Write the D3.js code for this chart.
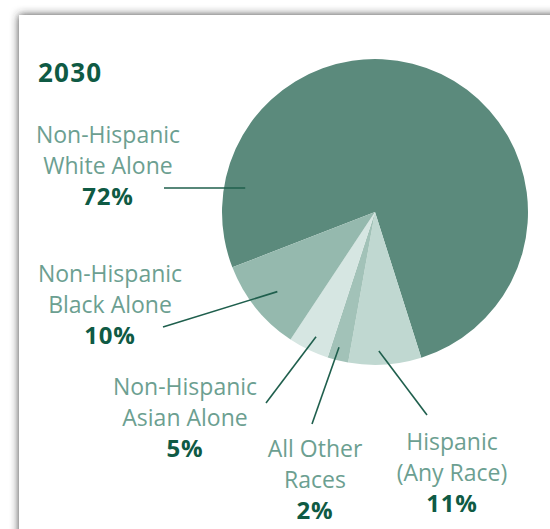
<!DOCTYPE html>
<html>
<head>
<meta charset="utf-8">
<script src="https://cdn.jsdelivr.net/npm/d3@7"></script>
<style>
  html, body { margin: 0; padding: 0; background: #fff; }
  svg { display: block; }
</style>
</head>
<body>
<div id="chart"></div>
<script>
// Data (order follows the pie clockwise, starting with the big slice)
const groups = ['White', 'Hispanic', 'Other', 'Asian', 'Black'];
const labelLines = [
    ['Non-Hispanic', 'White Alone'],
    ['Hispanic', '(Any Race)'],
    ['All Other', 'Races'],
    ['Non-Hispanic', 'Asian Alone'],
    ['Non-Hispanic', 'Black Alone']
];
const percents = [72, 11, 2, 5, 10];
// slice sizes as drawn in the picture (the source art is not exact)
const sliceShares = [76.0, 7.7, 2.2, 4.3, 9.8];
const title = '2030';

const width = 550;
const height = 529;
const center = {x: 375, y: 212};
const radius = 153;

const sliceColors = ['#5b8a7c', '#c0d8d1', '#a2c2b8', '#d6e6e2', '#95b9ae'];
const labelColor = '#6c9f91';
const darkColor = '#0f5a44';
const leaderColor = '#1f5f4d';
const lineGap = 31;

// label centres (first baseline) and leader lines (angle in degrees, radius inside the pie, outer end)
const labelPos = [
    {x: 108, y: 143},
    {x: 452, y: 450},
    {x: 315, y: 457},
    {x: 185, y: 395},
    {x: 110, y: 282}
];
const leaders = [
    {a: 280.5, r: 132, x: 164, y: 188},
    {a: 178.4, r: 139, x: 427, y: 415},
    {a: 194.9, r: 140, x: 312, y: 424},
    {a: 205.3, r: 138, x: 266, y: 403},
    {a: 230.8, r: 126, x: 163, y: 327}
];

const svg = d3.select('div#chart').append('svg').attr('width', width).attr('height', height);

// Frame with a soft shadow
const defs = svg.append('defs');
const shadow = defs.append('filter').attr('id', 'shadow')
    .attr('x', -0.1).attr('y', -0.1).attr('width', 1.2).attr('height', 1.2);
shadow.append('feDropShadow')
    .attr('dx', 0).attr('dy', 0)
    .attr('stdDeviation', 4.5)
    .attr('flood-color', '#333')
    .attr('flood-opacity', 0.95);

svg.append('rect')
    .attr('x', 19).attr('y', 15)
    .attr('width', 620).attr('height', 600)
    .attr('fill', '#fff')
    .attr('filter', 'url(#shadow)');

// Pie
const data = groups.map((g, i) => ({group: g, share: sliceShares[i], pct: percents[i], i: i}));
const startAngle = -111.2 * Math.PI / 180;
const pie = d3.pie().sort(null).value(d => d.share)
    .startAngle(startAngle).endAngle(startAngle + 2 * Math.PI);
const arc = d3.arc().innerRadius(0).outerRadius(radius);

const pieGroup = svg.append('g').attr('transform', `translate(${center.x},${center.y})`);
pieGroup.selectAll('path')
    .data(pie(data))
    .enter().append('path')
    .attr('d', arc)
    .attr('fill', d => sliceColors[d.data.i]);

// Leader lines
svg.append('g').selectAll('line')
    .data(leaders)
    .enter().append('line')
    .attr('x1', d => center.x + d3.pointRadial(d.a * Math.PI / 180, d.r)[0])
    .attr('y1', d => center.y + d3.pointRadial(d.a * Math.PI / 180, d.r)[1])
    .attr('x2', d => d.x)
    .attr('y2', d => d.y)
    .attr('stroke', leaderColor)
    .attr('stroke-width', 1.6);

// Title
svg.append('text')
    .attr('x', 38).attr('y', 82)
    .attr('font-family', 'Open Sans, sans-serif')
    .attr('font-weight', 700)
    .attr('font-size', 26)
    .attr('letter-spacing', 1.2)
    .attr('fill', darkColor)
    .text(title);

// Labels
const labels = svg.append('g').selectAll('g')
    .data(data)
    .enter().append('g')
    .attr('transform', d => `translate(${labelPos[d.i].x},${labelPos[d.i].y})`);

labels.each(function(d) {
    const g = d3.select(this);
    labelLines[d.i].forEach((line, k) => {
        g.append('text')
            .attr('y', k * lineGap)
            .attr('text-anchor', 'middle')
            .attr('font-family', 'Open Sans, sans-serif')
            .attr('font-size', 23)
            .attr('fill', labelColor)
            .text(line);
    });
    g.append('text')
        .attr('y', 2 * lineGap)
        .attr('text-anchor', 'middle')
        .attr('font-family', 'Open Sans, sans-serif')
        .attr('font-weight', 700)
        .attr('font-size', 24)
        .attr('letter-spacing', 0.8)
        .attr('fill', darkColor)
        .text(d.pct + '%');
});
</script>
</body>
</html>
